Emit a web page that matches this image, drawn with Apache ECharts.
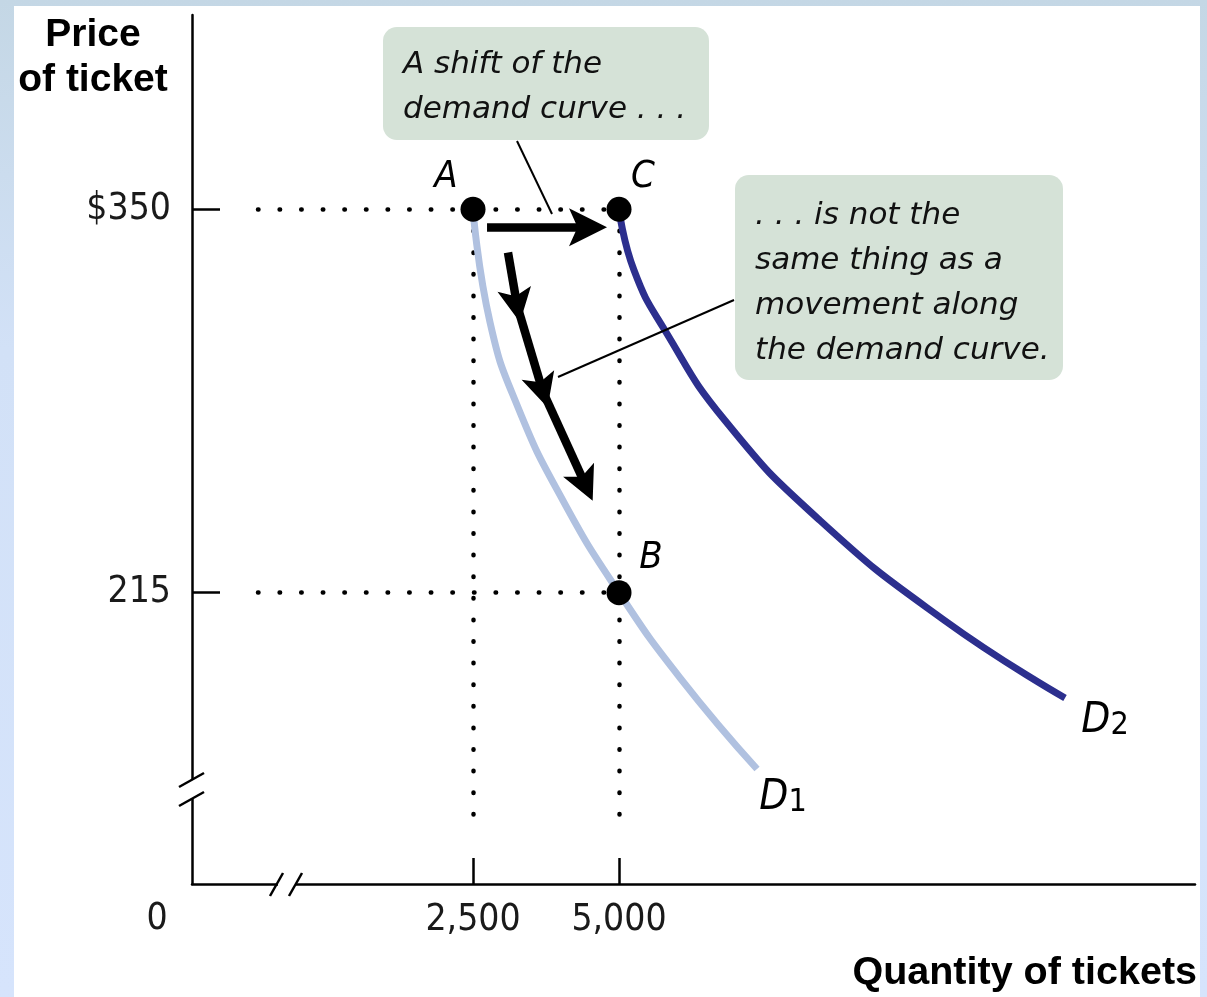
<!DOCTYPE html>
<html><head><meta charset="utf-8">
<script src="https://cdn.jsdelivr.net/npm/echarts@6/dist/echarts.min.js"></script>
<style>
html,body{margin:0;padding:0;width:1207px;height:997px;overflow:hidden;background:linear-gradient(#c4d7e5,#d2e1f7 35%,#d6e4fc);}
#frame{position:absolute;left:14px;top:6px;width:1186px;height:991px;background:#fff;}
#chart{position:absolute;left:0;top:0;width:1207px;height:997px;}
</style></head><body><div id="frame"></div><div id="chart"></div>
<script>
// ---- data ----
const pointNames = ['A', 'C', 'B'];
const pointQuantity = [2500, 5000, 5000];
const pointPrice = [350, 350, 215];

const d1Quantity = [2500, 2791, 3271, 4041, 5000, 6045, 7363];
const d1Price = [350, 310.2, 280.2, 247.4, 215, 185.0, 152.9];
const d2Quantity = [5000, 5257, 5788, 6815, 8442, 10582, 12637];
const d2Price = [350, 328.5, 307.3, 275.6, 240.4, 205.1, 177.9];

const xTickValues = [2500, 5000];
const xTickLabels = ['2,500', '5,000'];
const yTickValues = [215, 350];
const yTickLabels = ['215', '$350'];

// arrows (data coordinates)
const shiftArrowQ = [2740, 4469];
const shiftArrowP = [343.7, 343.7];
const moveArrowQ = [3099, 3255, 3694, 4428];
const moveArrowP = [334.8, 316.1, 285.9, 252.8];

// dotted guide extents
const guideStartQ = -1182;
const guideLowP = [134, 131];

const curveNames = ['D1', 'D2'];

// ---- helpers ----
const COND = "'DejaVu Sans Condensed','Liberation Sans Narrow','DejaVu Sans',sans-serif";
const ITAL = "'DejaVu Sans',sans-serif";
const BOLD = "'Liberation Sans','Arial',sans-serif";

function zip(a, b) { return a.map((v, i) => [v, b[i]]); }

const guides = [
  { coords: [[guideStartQ, pointPrice[0]], [pointQuantity[1], pointPrice[1]]] },
  { coords: [[guideStartQ, pointPrice[2]], [pointQuantity[2], pointPrice[2]]] },
  { coords: [[pointQuantity[0], pointPrice[0]], [pointQuantity[0], guideLowP[0]]] },
  { coords: [[pointQuantity[1], pointPrice[1]], [pointQuantity[1], guideLowP[1]]] }
];

const moveSegs = [];
for (let i = 0; i < moveArrowQ.length - 1; i++) {
  moveSegs.push({ coords: [[moveArrowQ[i], moveArrowP[i]], [moveArrowQ[i + 1], moveArrowP[i + 1]]] });
}

const arrowHead = 'path://M10,0 L20,40 L10,31 L0,40 Z';

const pointLabelOffsets = { A: [-27, -32], C: [24, -32], B: [32, -35] };
const curveLabelOffsets = { D1: [26, 29], D2: [40, 23] };

const chart = echarts.init(document.getElementById('chart'), null, { renderer: 'canvas' });

const option = {
  backgroundColor: 'transparent',
  animation: false,
  grid: { left: 192, top: 15, right: 12, bottom: 113, containLabel: false },
  xAxis: {
    type: 'value', min: -2312, max: 14863,
    splitLine: { show: false },
    axisLine: { show: true, onZero: false, lineStyle: { color: '#000', width: 2.5 } },
    axisTick: { show: true, inside: true, length: 26, customValues: xTickValues, lineStyle: { color: '#000', width: 2.5 } },
    axisLabel: {
      show: true, customValues: xTickValues, margin: 18,
      formatter: v => xTickLabels[xTickValues.indexOf(v)],
      color: '#1a1a1a', fontSize: 37, fontFamily: COND
    }
  },
  yAxis: {
    type: 'value', min: 112.4, max: 418.4,
    splitLine: { show: false },
    axisLine: { show: true, onZero: false, lineStyle: { color: '#000', width: 2.5 } },
    axisTick: { show: true, inside: true, length: 28, customValues: yTickValues, lineStyle: { color: '#000', width: 2.5 } },
    axisLabel: {
      show: true, customValues: yTickValues, margin: 21,
      formatter: v => yTickLabels[yTickValues.indexOf(v)],
      color: '#1a1a1a', fontSize: 37, fontFamily: COND
    }
  },
  series: [
    {
      type: 'lines', coordinateSystem: 'cartesian2d', silent: true, z: 2,
      lineStyle: { color: '#000', width: 4.5, type: [0.5, 21.1], cap: 'round', opacity: 1 },
      symbol: 'none',
      data: guides
    },
    {
      name: curveNames[0], type: 'line', showSymbol: false, smooth: 0.5, z: 3,
      lineStyle: { color: '#b0c1e0', width: 7 },
      data: zip(d1Quantity, d1Price)
    },
    {
      name: curveNames[1], type: 'line', showSymbol: false, smooth: 0.5, z: 3,
      lineStyle: { color: '#2c2f8e', width: 7 },
      data: zip(d2Quantity, d2Price)
    },
    {
      type: 'lines', coordinateSystem: 'cartesian2d', silent: true, z: 4,
      symbol: ['none', arrowHead], symbolSize: 38, symbolKeepAspect: true,
      lineStyle: { color: '#000', width: 8.5, opacity: 1 },
      data: [{ coords: zip(shiftArrowQ, shiftArrowP) }]
    },
    {
      type: 'lines', coordinateSystem: 'cartesian2d', silent: true, z: 4,
      symbol: ['none', arrowHead], symbolSize: 34, symbolKeepAspect: true,
      lineStyle: { color: '#000', width: 8.5, opacity: 1 },
      data: moveSegs
    },
    {
      type: 'scatter', z: 5, symbolSize: 25, itemStyle: { color: '#000', opacity: 1 },
      label: {
        show: true, position: 'inside', formatter: p => p.name,
        color: '#000', fontSize: 38, fontStyle: 'italic', fontFamily: COND
      },
      emphasis: { disabled: true },
      data: pointNames.map((n, i) => ({
        name: n, value: [pointQuantity[i], pointPrice[i]],
        label: { offset: pointLabelOffsets[n] }
      }))
    },
    {
      type: 'scatter', z: 5, symbolSize: 0, silent: true, itemStyle: { opacity: 1 },
      label: {
        show: true, position: 'inside',
        formatter: p => '{d|D}{s|' + p.name.slice(1) + '}',
        rich: {
          d: { fontSize: 42, fontStyle: 'italic', fontFamily: COND, color: '#000', lineHeight: 42 },
          s: { fontSize: 32, fontFamily: COND, color: '#000', verticalAlign: 'bottom', lineHeight: 32, padding: [22, 0, 0, 0] }
        }
      },
      data: [
        { name: curveNames[0], value: [d1Quantity[d1Quantity.length - 1], d1Price[d1Price.length - 1]], label: { offset: curveLabelOffsets.D1 } },
        { name: curveNames[1], value: [d2Quantity[d2Quantity.length - 1], d2Price[d2Price.length - 1]], label: { offset: curveLabelOffsets.D2 } }
      ]
    }
  ],
  graphic: [
    // axis breaks
    { type: 'rect', z: 100, shape: { x: 184, y: 780, width: 14, height: 19 }, style: { fill: '#fff' } },
    { type: 'line', z: 101, shape: { x1: 179, y1: 787, x2: 204, y2: 773 }, style: { stroke: '#000', lineWidth: 2.5 } },
    { type: 'line', z: 101, shape: { x1: 179, y1: 806, x2: 204, y2: 792 }, style: { stroke: '#000', lineWidth: 2.5 } },
    { type: 'rect', z: 100, shape: { x: 278, y: 877, width: 18, height: 12 }, style: { fill: '#fff' } },
    { type: 'line', z: 101, shape: { x1: 270, y1: 896, x2: 283, y2: 873 }, style: { stroke: '#000', lineWidth: 2.5 } },
    { type: 'line', z: 101, shape: { x1: 289, y1: 896, x2: 302, y2: 873 }, style: { stroke: '#000', lineWidth: 2.5 } },
    // origin label
    { type: 'text', z: 101, x: 157, y: 919, style: { text: '0', fill: '#1a1a1a', font: '37px ' + COND, align: 'center', verticalAlign: 'middle' } },
    // axis names
    { type: 'text', z: 101, x: 93, y: 58, style: { text: 'Price\nof ticket', fill: '#000', font: 'bold 39px ' + BOLD, align: 'center', verticalAlign: 'middle', lineHeight: 45 } },
    { type: 'text', z: 101, x: 1197, y: 973, style: { text: 'Quantity of tickets', fill: '#000', font: 'bold 39.5px ' + BOLD, align: 'right', verticalAlign: 'middle' } },
    // callout 1
    { type: 'rect', z: 90, shape: { x: 383, y: 27, width: 326, height: 113, r: 14 }, style: { fill: '#d5e2d7' } },
    { type: 'text', z: 91, x: 403, y: 87, style: { text: 'A shift of the\ndemand curve . . .', fill: '#111', font: 'italic 31px ' + ITAL, align: 'left', verticalAlign: 'middle', lineHeight: 45 } },
    { type: 'line', z: 91, shape: { x1: 517, y1: 141, x2: 552, y2: 214 }, style: { stroke: '#000', lineWidth: 2 } },
    // callout 2
    { type: 'rect', z: 90, shape: { x: 735, y: 175, width: 328, height: 205, r: 14 }, style: { fill: '#d5e2d7' } },
    { type: 'text', z: 91, x: 755, y: 283, style: { text: '. . . is not the\nsame thing as a\nmovement along\nthe demand curve.', fill: '#111', font: 'italic 31px ' + ITAL, align: 'left', verticalAlign: 'middle', lineHeight: 45 } },
    { type: 'line', z: 91, shape: { x1: 734, y1: 300, x2: 558, y2: 377 }, style: { stroke: '#000', lineWidth: 2 } }
  ]
};
chart.setOption(option);
</script>
</body></html>
